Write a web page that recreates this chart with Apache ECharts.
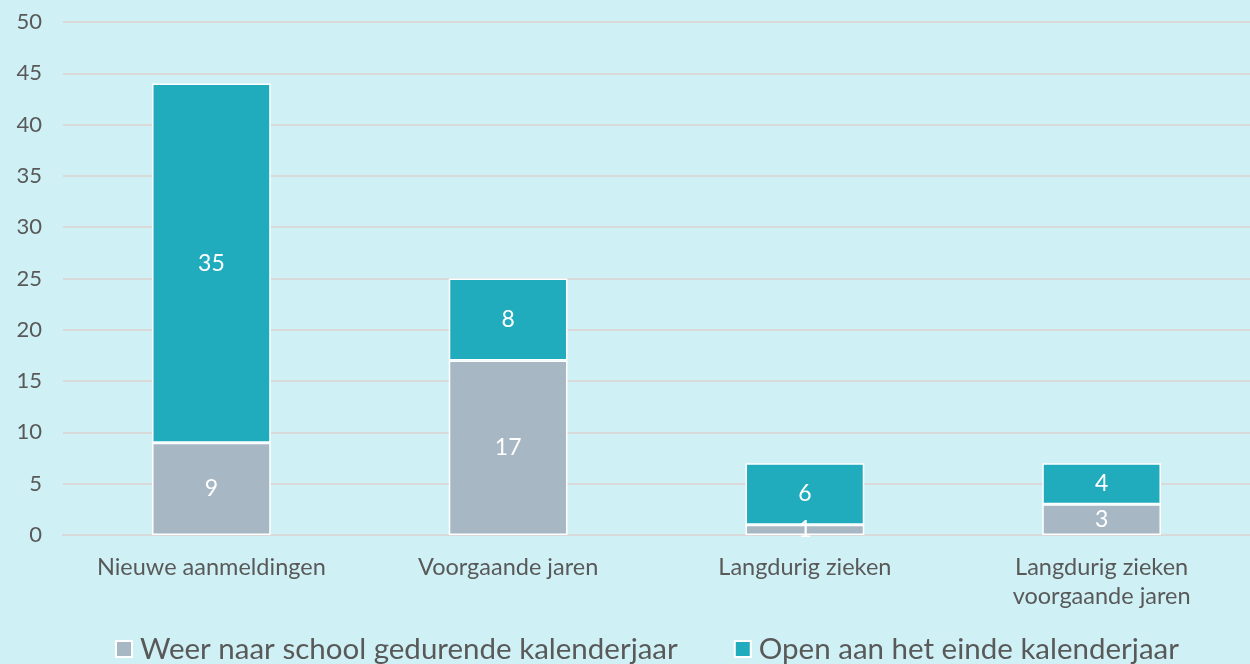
<!DOCTYPE html>
<html>
<head>
<meta charset="utf-8">
<script src="https://cdn.jsdelivr.net/npm/echarts@6/dist/echarts.min.js"></script>
<style>
    html, body { margin: 0; padding: 0; background: #CFF1F5; }
    #chart { width: 1250px; height: 664px; }
</style>
</head>
<body>
<div id="chart"></div>
<script>
    var categories = ['Nieuwe aanmeldingen', 'Voorgaande jaren', 'Langdurig zieken', 'Langdurig zieken\nvoorgaande jaren'];
    var weerNaarSchool = [9, 17, 1, 3];
    var openEinde = [35, 8, 6, 4];
    var seriesNames = ['Weer naar school gedurende kalenderjaar', 'Open aan het einde kalenderjaar'];

    var chart = echarts.init(document.getElementById('chart'));
    chart.setOption({
        backgroundColor: '#CFF1F5',
        textStyle: { fontFamily: 'Lato' },
        grid: { left: 63, right: 0, top: 22, bottom: 129 },
        legend: {
            data: seriesNames,
            bottom: -5,
            left: 110,
            itemWidth: 16,
            itemHeight: 16,
            itemGap: 56,
            icon: 'rect',
            textStyle: { fontSize: 29.5, color: '#595959', fontFamily: 'Lato', padding: [0, 0, 0, 3] }
        },
        xAxis: {
            type: 'category',
            data: categories,
            axisLine: { lineStyle: { color: '#D9D9D9', width: 2 } },
            axisTick: { show: false },
            axisLabel: { interval: 0, hideOverlap: false, fontSize: 23.5, color: '#595959', margin: 18, lineHeight: 29 }
        },
        yAxis: {
            type: 'value',
            min: 0,
            max: 50,
            interval: 5,
            axisLine: { show: false },
            axisTick: { show: false },
            splitLine: { lineStyle: { color: '#D9D9D9', width: 2 } },
            axisLabel: { fontSize: 22, color: '#595959', margin: 21 }
        },
        series: [
            {
                name: seriesNames[0],
                type: 'bar',
                stack: 'total',
                barWidth: '40%',
                data: weerNaarSchool,
                itemStyle: { color: '#A7B8C4', borderColor: '#FFFFFF', borderWidth: 1.5 },
                label: { show: true, position: 'inside', color: '#FFFFFF', fontSize: 23 }
            },
            {
                name: seriesNames[1],
                type: 'bar',
                stack: 'total',
                barWidth: '40%',
                data: openEinde,
                itemStyle: { color: '#20ACBD', borderColor: '#FFFFFF', borderWidth: 1.5 },
                label: { show: true, position: 'inside', color: '#FFFFFF', fontSize: 23 }
            }
        ]
    });
</script>
</body>
</html>
